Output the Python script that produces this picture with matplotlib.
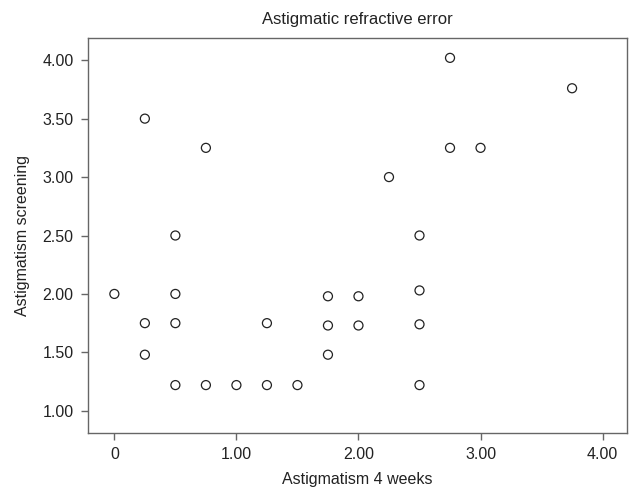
import matplotlib
matplotlib.use("Agg")
import matplotlib.pyplot as plt

# data (Astigmatism 4 weeks vs screening)
weeks4 = [0.00, 0.25, 0.25, 0.25, 0.50, 0.50, 0.50, 0.50, 0.75, 0.75,
          1.00, 1.25, 1.25, 1.50, 1.75, 1.75, 1.75, 2.00, 2.00, 2.25,
          2.50, 2.50, 2.50, 2.50, 2.75, 2.75, 3.00, 3.75]
screening = [2.00, 3.50, 1.75, 1.48, 2.50, 2.00, 1.75, 1.22, 3.25, 1.22,
             1.22, 1.75, 1.22, 1.22, 1.98, 1.73, 1.48, 1.98, 1.73, 3.00,
             2.50, 2.03, 1.74, 1.22, 4.02, 3.25, 3.25, 3.76]

x_ticks = [0, 1, 2, 3, 4]
x_labels = ["0", "1.00", "2.00", "3.00", "4.00"]
y_ticks = [1.0, 1.5, 2.0, 2.5, 3.0, 3.5, 4.0]
y_labels = ["1.00", "1.50", "2.00", "2.50", "3.00", "3.50", "4.00"]

plt.rcParams["font.family"] = ["Liberation Sans", "DejaVu Sans"]

fig = plt.figure(figsize=(6.3, 4.92), dpi=100)
ax = fig.add_axes([87.5 / 630, 1 - 433 / 492, (627 - 87.5) / 630, (433 - 38) / 492])

ax.scatter(weeks4, screening, s=42, facecolors="none", edgecolors="#222222", linewidths=0.9)

ax.set_xlim(-0.22, 4.2)
ax.set_ylim(0.81, 4.19)
ax.set_xticks(x_ticks)
ax.set_xticklabels(x_labels)
ax.set_yticks(y_ticks)
ax.set_yticklabels(y_labels)

for sp in ax.spines.values():
    sp.set_color("#666666")
    sp.set_linewidth(1.0)
ax.tick_params(direction="out", length=5, width=1.0, color="#666666",
               labelsize=11.5, labelcolor="#222222", pad=5)

ax.set_title("Astigmatic refractive error", fontsize=12, color="#222222", pad=10)
ax.set_xlabel("Astigmatism 4 weeks", fontsize=11.5, color="#222222", labelpad=7)
ax.set_ylabel("Astigmatism screening", fontsize=11.5, color="#222222", labelpad=9)

plt.savefig("out.png", dpi=100)
plt.close()
